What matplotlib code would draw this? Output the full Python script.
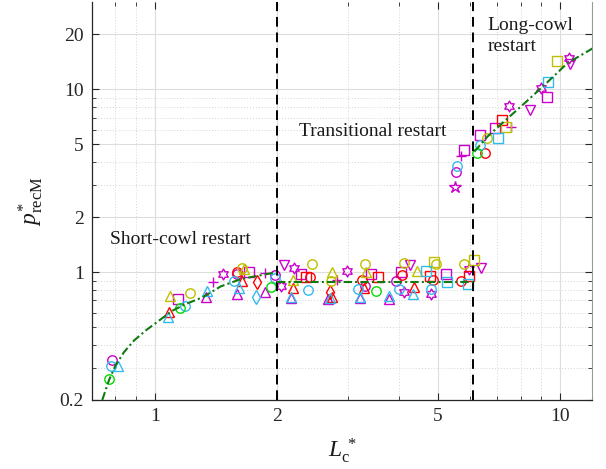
import matplotlib
matplotlib.use("Agg")
import matplotlib.pyplot as plt
from matplotlib.path import Path
from matplotlib.ticker import FixedLocator, NullFormatter, FixedFormatter

plt.rcParams['font.family'] = ['Liberation Serif', 'DejaVu Serif']
plt.rcParams['mathtext.fontset'] = 'custom'
plt.rcParams['mathtext.rm'] = 'Liberation Serif'
plt.rcParams['mathtext.it'] = 'Liberation Serif:italic'

# ---------------- data ----------------
# magenta
mag_o_L = [0.783, 1.594, 1.98, 3.30, 3.95, 5.53]
mag_o_p = [0.33, 0.98, 0.97, 0.84, 0.90, 3.55]
mag_tri_L = [1.34, 1.60, 1.876, 2.17, 2.68, 3.21, 3.79]
mag_tri_p = [0.729, 0.76, 0.782, 0.72, 0.71, 0.72, 0.71]
mag_sq_L = [1.14, 1.713, 2.29, 3.42, 4.05, 5.24, 5.80, 6.36, 6.92, 9.28]
mag_sq_p = [0.713, 1.0, 0.975, 0.975, 1.0, 0.98, 4.66, 5.62, 6.11, 9.07]
mag_v_L = [2.087, 4.27, 6.38, 8.46, 10.6]
mag_v_p = [1.09, 1.09, 1.06, 7.68, 13.8]
mag_plus_L = [1.396, 1.87, 2.81, 5.69, 7.57]
mag_plus_p = [0.886, 0.99, 0.91, 4.29, 6.24]
mag_hex_L = [1.47, 2.05, 2.207, 2.98, 4.13, 4.80, 5.97, 7.50, 8.97, 10.5]
mag_hex_p = [0.98, 0.84, 1.05, 1.02, 0.775, 0.76, 1.04, 8.08, 10.1, 14.9]
mag_pent_L = [5.51]
mag_pent_p = [2.92]

# red
red_o_L = [1.60, 2.42, 3.24, 4.07, 4.87, 5.70, 6.52]
red_o_p = [1.0, 0.943, 0.91, 0.963, 0.91, 0.897, 4.51]
red_tri_L = [1.083, 1.64, 2.19, 2.745, 3.29, 4.37]
red_tri_p = [0.608, 0.897, 0.815, 0.73, 0.815, 0.825]
red_sq_L = [2.36, 3.55, 4.78, 5.97, 7.19]
red_sq_p = [0.935, 0.935, 0.95, 0.95, 6.79]
red_d_L = [1.786, 2.71]
red_d_p = [0.879, 0.775]

# yellow
yel_o_L = [1.22, 1.64, 2.45, 2.73, 3.30, 4.13, 4.94, 5.81, 6.62]
yel_o_p = [0.766, 1.05, 1.115, 0.90, 1.105, 1.12, 1.105, 1.105, 5.4]
yel_tri_L = [1.093, 1.66, 2.20, 2.745, 3.32, 4.45]
yel_tri_p = [0.743, 1.04, 0.905, 1.0, 1.0, 1.02]
yel_sq_L = [4.89, 6.13, 7.36, 9.83]
yel_sq_p = [1.14, 1.166, 6.2, 14.2]

# cyan
cya_o_L = [0.78, 1.19, 1.57, 1.975, 2.39, 3.18, 4.01, 4.80, 5.58, 6.36]
cya_o_p = [0.307, 0.656, 0.897, 0.924, 0.80, 0.81, 0.81, 0.81, 3.81, 4.96]
cya_tri_L = [0.81, 1.077, 1.346, 1.61, 2.17, 2.70, 3.21, 3.79, 4.33]
cya_tri_p = [0.307, 0.567, 0.786, 0.815, 0.73, 0.72, 0.73, 0.743, 0.76]
cya_sq_L = [4.67, 5.27, 5.92, 7.05, 9.35]
cya_sq_p = [1.02, 0.88, 0.86, 5.4, 10.95]
cya_d_L = [1.78]
cya_d_p = [0.729]

# green
grn_o_L = [0.769, 1.157, 1.937, 3.51, 6.26]
grn_o_p = [0.262, 0.635, 0.832, 0.79, 4.51]

# fitted curves
short_L = [0.742, 0.771, 0.80, 0.84, 0.889, 0.95, 1.025, 1.106, 1.193, 1.311,
           1.455, 1.63, 1.83, 2.0]
short_p = [0.20, 0.257, 0.309, 0.366, 0.423, 0.48, 0.544, 0.616, 0.67, 0.728,
           0.836, 0.916, 0.963, 1.0]
trans_L = [2.0, 6.1]
trans_p = [0.879, 0.879]
long_L = [6.15, 6.63, 7.42, 8.33, 9.32, 10.44, 12.3]
long_p = [4.56, 5.52, 6.92, 8.7, 10.95, 13.9, 17.2]

boundaries = [2.0, 6.1]

xticks = [1, 2, 5, 10]
xtick_labels = ['1', '2', '5', '10']
xminor = [0.8, 0.9, 3, 4, 6, 7, 8, 9]
yticks = [0.2, 1, 2, 5, 10, 20]
ytick_labels = ['0.2', '1', '2', '5', '10', '20']
yminor = [0.3, 0.4, 0.5, 0.6, 0.7, 0.8, 0.9, 3, 4, 6, 7, 8, 9]

# ---------------- style ----------------
MAG = '#CC00CC'
RED = '#FF0000'
YEL = '#BFBF00'
CYA = '#33BBEE'
GRN = '#00DD00'
hexagram = Path.unit_regular_star(6, 0.577)

fig = plt.figure(figsize=(6.06, 4.69), dpi=100)
ax = fig.add_axes([92/606, 69/469, 500/606, 398/469])
ax.set_xscale('log')
ax.set_yscale('log')
ax.set_xlim(0.7, 12)
ax.set_ylim(0.2, 30)

# grid
ax.xaxis.set_major_locator(FixedLocator(xticks))
ax.xaxis.set_major_formatter(FixedFormatter(xtick_labels))
ax.xaxis.set_minor_locator(FixedLocator(xminor))
ax.xaxis.set_minor_formatter(NullFormatter())
ax.yaxis.set_major_locator(FixedLocator(yticks))
ax.yaxis.set_major_formatter(FixedFormatter(ytick_labels))
ax.yaxis.set_minor_locator(FixedLocator(yminor))
ax.yaxis.set_minor_formatter(NullFormatter())
ax.grid(True, which='major', color='#DDDDDD', lw=0.8, ls='-')
ax.grid(True, which='minor', color='#D5D5D5', lw=0.7, ls=(0, (1, 2)))
ax.set_axisbelow(True)

ax.tick_params(which='both', direction='in', top=True, right=True,
               labelsize=14, colors='#262626', pad=6)
ax.tick_params(which='major', length=5, width=0.8)
ax.tick_params(which='minor', length=3, width=0.6)
for s in ['left', 'bottom']:
    ax.spines[s].set_color('#262626')
    ax.spines[s].set_linewidth(0.9)
ax.spines['right'].set_color('#9A9A9A')
ax.spines['top'].set_visible(False)

ms = 6.8
mew = 1.0
series = [
    (mag_o_L, mag_o_p, MAG, 'o'), (mag_tri_L, mag_tri_p, MAG, '^'),
    (mag_sq_L, mag_sq_p, MAG, 's'), (mag_v_L, mag_v_p, MAG, 'v'),
    (mag_plus_L, mag_plus_p, MAG, '+'), (mag_hex_L, mag_hex_p, MAG, hexagram),
    (mag_pent_L, mag_pent_p, MAG, '*'),
    (red_o_L, red_o_p, RED, 'o'), (red_tri_L, red_tri_p, RED, '^'),
    (red_sq_L, red_sq_p, RED, 's'), (red_d_L, red_d_p, RED, 'd'),
    (yel_o_L, yel_o_p, YEL, 'o'), (yel_tri_L, yel_tri_p, YEL, '^'),
    (yel_sq_L, yel_sq_p, YEL, 's'),
    (cya_o_L, cya_o_p, CYA, 'o'), (cya_tri_L, cya_tri_p, CYA, '^'),
    (cya_sq_L, cya_sq_p, CYA, 's'), (cya_d_L, cya_d_p, CYA, 'd'),
    (grn_o_L, grn_o_p, GRN, 'o'),
]
for L, p, c, m in series:
    size = ms
    if m == '*':
        size = ms + 2
    elif m is hexagram:
        size = ms + 1
    elif m == '+':
        size = ms + 1
    ax.plot(L, p, ls='none', marker=m, markersize=size, markerfacecolor='none',
            markeredgecolor=c, markeredgewidth=mew, zorder=3)

for b in boundaries:
    ax.axvline(b, color='black', lw=1.4, ls=(0, (5, 3)), zorder=4)

fit_kw = dict(color='#107A10', lw=1.5, ls=(0, (4, 1.5, 1, 1.5)), zorder=5)
ax.plot(short_L, short_p, **fit_kw)
ax.plot(trans_L, trans_p, **fit_kw)
ax.plot(long_L, long_p, **fit_kw)

ax.text(0.774, 1.51, 'Short-cowl restart', fontsize=14, ha='left', va='center', color='#1a1a1a')
ax.text(3.46, 5.9, 'Transitional restart', fontsize=14, ha='center', va='center', color='#1a1a1a')
ax.text(6.63, 19.6, 'Long-cowl\nrestart', fontsize=14, ha='left', va='center',
        color='#1a1a1a', linespacing=1.35)

ax.set_xlabel(r'$L_{\mathrm{c}}^{\,*}$', fontsize=17, color='#1a1a1a', labelpad=8)
ax.set_ylabel(r'$p^{*}_{\mathrm{recM}}$', fontsize=17, color='#1a1a1a', labelpad=10)

fig.savefig('out.png', dpi=100)
